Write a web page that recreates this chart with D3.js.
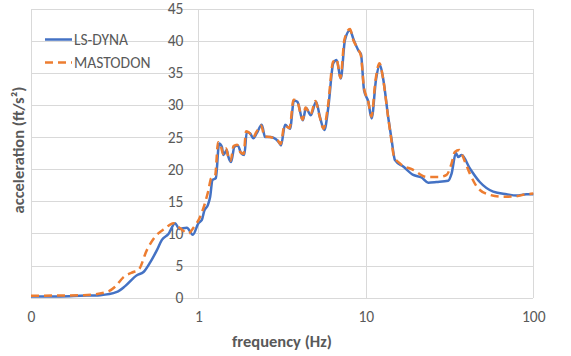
<!DOCTYPE html>
<html>
<head>
<meta charset="utf-8">
<script src="https://cdn.jsdelivr.net/npm/d3@7"></script>
<style>
  html, body { margin: 0; padding: 0; background: #fff; }
  svg { display: block; }
  text { font-family: Carlito, Calibri, Lato, "Open Sans", sans-serif; }
</style>
</head>
<body>
<svg id="chart" width="571" height="356"></svg>
<script>
// ---- data ----
const seriesNames = ["LS-DYNA", "MASTODON"];
const lsdynaFreq = [0.1, 0.15, 0.197, 0.259, 0.326, 0.365, 0.429, 0.47, 0.515, 0.565, 0.605, 0.662, 0.726, 0.767, 0.853, 0.926, 1.0, 1.048, 1.086, 1.138, 1.175, 1.212, 1.27, 1.329, 1.38, 1.41, 1.476, 1.51, 1.567, 1.64, 1.718, 1.798, 1.88, 1.944, 2.033, 2.129, 2.23, 2.389, 2.5, 2.679, 3.001, 3.114, 3.29, 3.524, 3.72, 3.9, 4.2, 4.39, 4.69, 5.04, 5.32, 5.65, 5.97, 6.39, 6.69, 7.08, 7.5, 8.04, 8.41, 9.01, 9.35, 9.75, 10.34, 10.83, 11.49, 12.13, 12.7, 13.61, 14.26, 14.92, 16.72, 19.18, 21.52, 23.57, 26.45, 31.03, 32.5, 34.49, 35.6, 37.3, 41.8, 47.9, 57.6, 69.2, 79.4, 91.0, 100];
const lsdynaAcc  = [0.2, 0.2, 0.3, 0.4, 0.9, 1.8, 3.5, 4.0, 5.5, 7.4, 9.0, 9.9, 11.6, 10.7, 10.9, 9.8, 11.6, 12.1, 13.6, 14.4, 15.7, 18.3, 18.6, 24.0, 23.5, 22.2, 23.0, 21.9, 21.1, 23.5, 23.7, 22.5, 22.2, 25.8, 25.6, 24.8, 25.6, 26.9, 25.0, 25.0, 24.3, 23.7, 26.9, 26.3, 30.7, 30.5, 27.6, 29.5, 28.4, 30.5, 28.1, 26.1, 29.7, 36.5, 37.0, 34.1, 40.1, 41.6, 40.3, 38.5, 37.9, 32.3, 30.5, 27.9, 33.9, 36.2, 34.0, 28.0, 24.5, 21.4, 20.4, 19.1, 18.7, 17.9, 18.0, 18.2, 19.3, 22.5, 21.9, 22.2, 20.1, 18.0, 16.5, 16.1, 15.9, 16.1, 16.1];
const mastodonFreq = [0.1, 0.206, 0.284, 0.318, 0.357, 0.409, 0.438, 0.492, 0.552, 0.633, 0.709, 0.778, 0.872, 0.934, 1.024, 1.096, 1.147, 1.191, 1.258, 1.311, 1.366, 1.403, 1.463, 1.504, 1.556, 1.622, 1.702, 1.786, 1.862, 1.926, 2.021, 2.119, 2.209, 2.366, 2.484, 2.679, 2.99, 3.093, 3.268, 3.501, 3.698, 3.88, 4.19, 4.36, 4.67, 5.0, 5.29, 5.58, 5.94, 6.37, 6.68, 7.05, 7.45, 8.04, 8.41, 8.97, 9.35, 9.75, 10.3, 10.8, 11.41, 12.06, 12.65, 13.55, 14.12, 14.72, 15.97, 19.18, 23.06, 27.68, 30.35, 32.5, 34.0, 36.1, 39.0, 41.8, 46.9, 55.0, 66.1, 79.4, 91.0, 100];
const mastodonAcc  = [0.3, 0.4, 0.9, 1.7, 3.2, 4.0, 4.3, 7.4, 9.5, 10.8, 11.6, 10.8, 10.0, 10.9, 12.6, 14.8, 16.7, 18.6, 19.0, 24.2, 23.4, 22.4, 23.2, 22.0, 21.3, 23.6, 23.8, 22.6, 22.4, 25.9, 25.6, 24.9, 25.7, 26.8, 25.1, 25.0, 24.4, 23.9, 26.8, 26.4, 30.8, 30.6, 27.7, 29.6, 28.5, 30.6, 28.2, 26.3, 29.9, 36.7, 37.1, 34.2, 40.2, 41.8, 40.1, 38.7, 37.6, 32.6, 30.7, 28.2, 33.8, 36.5, 34.2, 28.3, 25.0, 22.0, 20.9, 19.9, 18.8, 18.8, 19.1, 20.9, 22.7, 23.0, 21.2, 19.3, 17.0, 16.0, 15.7, 15.8, 16.1, 16.2];
const xTickValues = [0.1, 1, 10, 100];
const xTickLabels = ["0", "1", "10", "100"];
const yTickValues = [0, 5, 10, 15, 20, 25, 30, 35, 40, 45];
const xTitle = "frequency (Hz)";
const yTitle = "acceleration (ft/s\u00B2)";

// ---- layout ----
const svg = d3.select("#chart");
const plotL = 31, plotR = 533.3, plotT = 8.5, plotB = 297.7;
const x = d3.scaleLog().domain([0.1, 100]).range([plotL, plotR]);
const y = d3.scaleLinear().domain([0, 45]).range([plotB, plotT]);
const gridColor = "#d9d9d9", textColor = "#595959";
const tickFont = 15.5, titleFont = 16.5;

// gridlines
const gx = svg.append("g").attr("transform", `translate(0,${plotB})`)
  .call(d3.axisBottom(x).tickValues(xTickValues).tickSize(-(plotB - plotT)).tickFormat(""));
const gy = svg.append("g").attr("transform", `translate(${plotL},0)`)
  .call(d3.axisLeft(y).tickValues(yTickValues).tickSize(-(plotR - plotL)).tickFormat(""));
[gx, gy].forEach(g => {
  g.select(".domain").remove();
  g.selectAll(".tick line").attr("stroke", gridColor).attr("stroke-width", 1).attr("shape-rendering", "crispEdges");
});

// x tick labels
const xa = svg.append("g").attr("transform", `translate(0,${plotB})`)
  .call(d3.axisBottom(x).tickValues(xTickValues).tickSize(0).tickPadding(13)
    .tickFormat((d, i) => xTickLabels[i]));
xa.select(".domain").remove();
xa.selectAll("text").attr("fill", textColor).attr("font-size", tickFont);

// y tick labels (axis crosses at 1 Hz)
const ya = svg.append("g").attr("transform", `translate(${x(1)},0)`)
  .call(d3.axisLeft(y).tickValues(yTickValues).tickSize(0).tickPadding(15).tickFormat(d3.format("d")));
ya.select(".domain").remove();
ya.selectAll("text").attr("fill", textColor).attr("font-size", tickFont);

// series
const line = d3.line().x(d => x(d[0])).y(d => y(d[1])).curve(d3.curveMonotoneX);
const lsData = lsdynaFreq.map((f, i) => [f, lsdynaAcc[i]]);
const maData = mastodonFreq.map((f, i) => [f, mastodonAcc[i]]);
svg.append("path").datum(lsData).attr("d", line)
  .attr("fill", "none").attr("stroke", "#4472C4").attr("stroke-width", 2.5).attr("stroke-linejoin", "round");
svg.append("path").datum(maData).attr("d", line)
  .attr("fill", "none").attr("stroke", "#ED7D31").attr("stroke-width", 2.5).attr("stroke-dasharray", "8,5");

// legend
const legend = svg.append("g");
const legItems = [
  { name: seriesNames[0], color: "#4472C4", dash: null, ly: 39.5 },
  { name: seriesNames[1], color: "#ED7D31", dash: "8,5", ly: 62.5 }
];
legItems.forEach(it => {
  legend.append("line").attr("x1", 45).attr("x2", 72).attr("y1", it.ly).attr("y2", it.ly)
    .attr("stroke", it.color).attr("stroke-width", 2.5).attr("stroke-dasharray", it.dash);
  legend.append("text").attr("x", 74).attr("y", it.ly).attr("dy", "0.35em")
    .attr("fill", textColor).attr("font-size", tickFont).text(it.name);
});

// axis titles
svg.append("text").attr("x", 282).attr("y", 347).attr("text-anchor", "middle")
  .attr("fill", textColor).attr("font-size", titleFont).attr("font-weight", "bold").text(xTitle);
svg.append("text").attr("transform", "translate(24,150) rotate(-90)").attr("text-anchor", "middle")
  .attr("fill", textColor).attr("font-size", titleFont).attr("font-weight", "bold").text(yTitle);
</script>
</body>
</html>
